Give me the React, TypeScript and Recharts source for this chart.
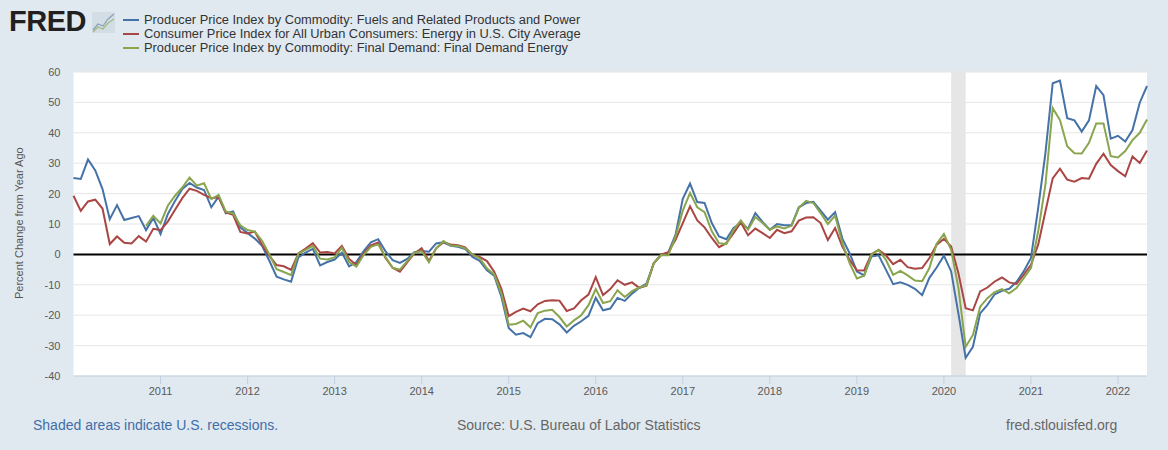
import React from "react";
import { LineChart, Line, XAxis, YAxis, CartesianGrid, ReferenceLine, ReferenceArea, Legend } from "recharts";

const fuels: (number | null)[] = [
  25.1,24.8,31.2,27.6,21.5,11.6,16.2,11.3,12,12.6,
  8,12,6.7,13.2,17.6,21.5,23.5,22,21.2,15.5,
  19,13.5,14.1,8.9,7,5.2,2.8,-2.1,-7.3,-8.2,
  -9,-1,0.6,1.8,-3.6,-2.5,-1.7,0.6,-3.9,-2.5,
  1.1,4,5,1.1,-1.9,-2.8,-1.5,0.7,1.1,0.9,
  3.6,4,2.8,2.5,1.8,-0.8,-2.1,-5.2,-7,-14,
  -24.2,-26.4,-25.9,-27.2,-22.6,-21.2,-21.3,-23,-25.7,-23.5,
  -22,-20.2,-14.3,-18.4,-17.8,-14.3,-15.3,-12.9,-11,-9.6,
  -2.9,-0.3,0.6,6.5,18.3,23.3,17.2,16.9,10.3,5.9,
  5,8.7,10.3,8.5,13.6,10.7,8.1,10,9.6,9.6,
  15.5,16.9,17.3,14.4,11.4,13.9,5.2,0.4,-5.6,-6.9,
  -0.7,-0.3,-5,-9.8,-9.2,-10,-11.3,-13.4,-7.7,-4.3,
  -0.4,-5.6,-19.5,-34,-30.4,-19.4,-16.6,-13.1,-12,-11.3,
  -9.1,-5.6,-1.2,15.3,33.4,56.3,57.2,44.8,44.1,40.4,
  44.1,55.4,52.4,38.1,39,37.1,40.9,49.9,55.4,
];

const cpiEnergy: (number | null)[] = [
  19.3,14.3,17.4,18,15.1,3.4,5.9,3.8,3.6,6,
  4.2,8.4,8,10.8,14.7,18.5,21.6,20.9,19.6,18.5,
  18.8,13.8,13,7.4,6.9,7.5,3.1,-0.5,-3.5,-3.9,
  -5.1,0.3,1.9,3.7,0.6,0.8,0.3,2.8,-1.5,-3.5,
  0.3,3,3.9,-1.1,-4.4,-5.7,-2.6,0.3,2,-2.2,
  2,4,3.3,3,2.3,-0.2,-0.8,-2.2,-5.7,-11.4,
  -20.3,-18.9,-17.8,-18.7,-16.4,-15.3,-15.1,-15.2,-18.6,-17.8,
  -15.1,-13.2,-7.5,-13.4,-11.4,-8.5,-10,-9.2,-11,-10.3,
  -2.9,-0.1,0.7,4.8,10.3,15.8,11.2,8.9,5.4,2.4,
  3.7,7,10.5,6.3,8.5,7,5.4,8.1,7,7.6,
  11.1,12.1,12.2,10.3,4.7,8.7,2.6,-1.8,-5.2,-5.3,
  0.1,1.5,-0.3,-3.2,-1.8,-4.2,-4.7,-4.5,-1.2,3.2,
  5.1,2.6,-6.2,-17.7,-18.4,-12.2,-10.9,-8.9,-7.6,-9.2,
  -9.7,-6.7,-3.4,3.2,14.2,25,28.2,24.6,23.9,25.1,
  24.9,29.8,33.1,29.4,27.4,25.7,32.2,30.1,34.2,
];

const finalDemandEnergy: (number | null)[] = [
  null,null,null,null,null,null,null,null,null,null,
  9.4,12.7,10.2,16,19.3,22,25.3,22.6,23.4,18.2,
  19.6,14.1,13.5,9.6,8,7.5,4.5,0,-4.9,-5.8,
  -6.8,0.2,1.5,2.8,-1.4,-1.7,-1,2.2,-2.5,-4,
  -0.2,2.5,3.3,-0.8,-4.4,-5,-2.2,0.5,1.1,-2.6,
  2,4.4,2.9,2.8,2,0,-1.3,-4.6,-6.6,-12.9,
  -23.1,-22.9,-21.8,-24,-19.3,-18.5,-18.2,-20.6,-23.7,-21.7,
  -20,-16.7,-11.4,-16,-15.4,-11.8,-14,-12.1,-10.9,-10.1,
  -2.9,-0.2,-0.3,5.9,14.4,20.2,15.5,13.9,7.6,3.7,
  3.4,8.1,11.2,8.1,12.3,10.3,8.1,9.2,8.5,9.4,
  15.3,17.6,16.9,13.6,10,12.8,3.7,-2.9,-7.9,-7,
  -0.1,1.5,-1.8,-6.7,-5.4,-6.9,-8.6,-8.8,-4.5,3.5,
  6.7,1.5,-11,-30.4,-26.5,-17.2,-14.4,-12.4,-11.4,-12.8,
  -11.1,-7.8,-4.5,7.6,23,48.1,44.2,35.6,33.3,33.2,
  36.7,43.1,43.1,32.3,31.9,34,37.6,40,44.4,
];

const yearTickIndex = [12, 24, 36, 48, 60, 72, 84, 96, 108, 120, 132, 144];
const yearLabels = ["2011","2012","2013","2014","2015","2016","2017","2018","2019","2020","2021","2022"];
const valueTicks = [-40, -30, -20, -10, 0, 10, 20, 30, 40, 50, 60];
const recession = [121, 123];
const seriesNames = [
  "Producer Price Index by Commodity: Fuels and Related Products and Power",
  "Consumer Price Index for All Urban Consumers: Energy in U.S. City Average",
  "Producer Price Index by Commodity: Final Demand: Final Demand Energy",
];
const seriesColors = ["#4572a7", "#aa4643", "#89a54e"];

const rows = fuels.map((v, i) => ({ i, a: v, b: cpiEnergy[i], c: finalDemandEnergy[i] }));
const FONT = "'Liberation Sans', Arial, sans-serif";

function LegendBox() {
  return (
    <div style={{ fontFamily: FONT, fontSize: 12.85, color: "#333", lineHeight: "14px" }}>
      {seriesNames.map((n, k) => (
        <div key={n} style={{ display: "flex", alignItems: "center", height: 14, whiteSpace: "nowrap" }}>
          <span style={{ display: "inline-block", width: 16, height: 2, background: seriesColors[k], marginRight: 5 }} />
          <span>{n}</span>
        </div>
      ))}
    </div>
  );
}

export default function App() {
  return (
    <div style={{ position: "absolute", left: 0, top: 0, width: 1168, height: 450, background: "#e1e9f0", overflow: "hidden", fontFamily: FONT }}>
      <LineChart width={1168} height={450} data={rows} margin={{ top: 30, right: 21, bottom: 0, left: 0 }}>
        <CartesianGrid vertical={false} stroke="#e6e6e6" fill="#ffffff" />
        <XAxis
          type="number"
          dataKey="i"
          domain={[0, 148]}
          ticks={yearTickIndex}
          tickFormatter={(v: number) => yearLabels[yearTickIndex.indexOf(v)]}
          interval={0}
          tick={{ fontSize: 11, fill: "#595959", fontFamily: FONT }}
          tickSize={8}
          tickMargin={3}
          stroke="#c0d0e0"
          height={74}
        />
        <YAxis
          domain={[-40, 60]}
          ticks={valueTicks}
          interval={0}
          width={73.5}
          axisLine={false}
          tickLine={false}
          tickSize={0}
          tickMargin={13}
          tick={{ fontSize: 11, fill: "#595959", fontFamily: FONT }}
          label={{ value: "Percent Change from Year Ago", angle: -90, position: "insideLeft", dx: 14, dy: 75, style: { fontSize: 11, fill: "#555", fontFamily: FONT } }}
        />
        <ReferenceArea x1={recession[0]} x2={recession[1]} fill="#e6e6e6" fillOpacity={1} stroke="none" ifOverflow="hidden" />
        <ReferenceLine y={0} stroke="#000000" strokeWidth={2} />
        <Legend
          layout="horizontal"
          verticalAlign="top"
          align="left"
          height={42}
          content={<LegendBox />}
          wrapperStyle={{ position: "absolute", left: 123, top: 13, width: 500 }}
        />
        <Line type="linear" dataKey="a" name={seriesNames[0]} stroke={seriesColors[0]} strokeWidth={2} dot={false} isAnimationActive={false} />
        <Line type="linear" dataKey="b" name={seriesNames[1]} stroke={seriesColors[1]} strokeWidth={2} dot={false} isAnimationActive={false} />
        <Line type="linear" dataKey="c" name={seriesNames[2]} stroke={seriesColors[2]} strokeWidth={2} dot={false} isAnimationActive={false} />
      </LineChart>

      <div style={{ position: "absolute", left: 9, top: 4, fontSize: 29, fontWeight: 700, color: "#231f20", letterSpacing: -0.5, lineHeight: "34px" }}>FRED</div>
      <svg width={23} height={21} style={{ position: "absolute", left: 92, top: 12 }}>
        <rect x={0} y={0} width={23} height={21} fill="#d3dde6" />
        <polyline points="1,18 6,12 11,14 16,7 22,2" fill="none" stroke="#8aa0b8" strokeWidth={1.2} />
        <polyline points="1,20 6,15 11,17 16,11 22,7" fill="none" stroke="#a3b878" strokeWidth={1.2} />
      </svg>

      <div style={{ position: "absolute", left: 33, top: 417, fontSize: 14, color: "#3f6ea8" }}>Shaded areas indicate U.S. recessions.</div>
      <div style={{ position: "absolute", left: 457, top: 417, fontSize: 14, color: "#666" }}>Source: U.S. Bureau of Labor Statistics</div>
      <div style={{ position: "absolute", left: 1006, top: 417, fontSize: 14, color: "#666" }}>fred.stlouisfed.org</div>
    </div>
  );
}
